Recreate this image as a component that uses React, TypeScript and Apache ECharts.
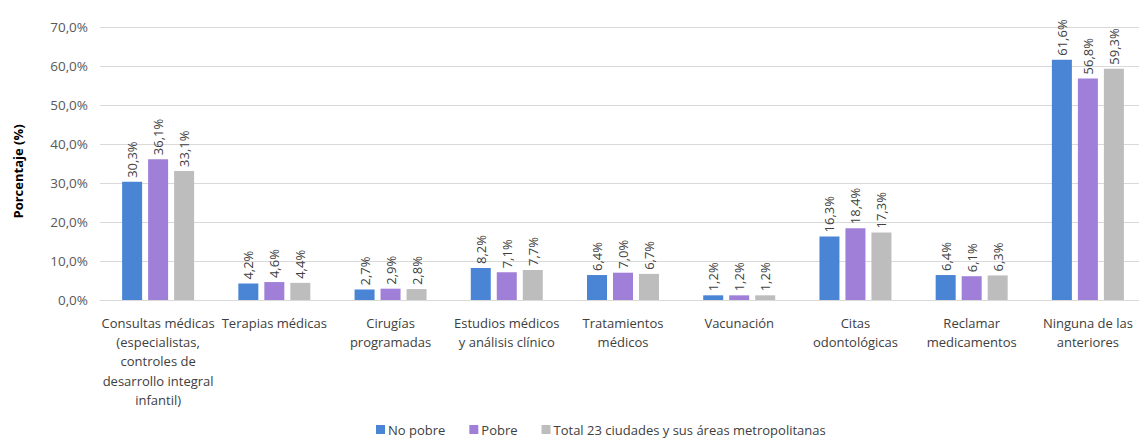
import React, { useEffect, useRef } from "react";
import * as echarts from "echarts";

const categories = [
  "Consultas médicas\n(especialistas,\ncontroles de\ndesarrollo integral\ninfantil)",
  "Terapias médicas",
  "Cirugías\nprogramadas",
  "Estudios médicos\ny análisis clínico",
  "Tratamientos\nmédicos",
  "Vacunación",
  "Citas\nodontológicas",
  "Reclamar\nmedicamentos",
  "Ninguna de las\nanteriores",
];
const noPobre = [30.3, 4.2, 2.7, 8.2, 6.4, 1.2, 16.3, 6.4, 61.6];
const pobre = [36.1, 4.6, 2.9, 7.1, 7.0, 1.2, 18.4, 6.1, 56.8];
const total = [33.1, 4.4, 2.8, 7.7, 6.7, 1.2, 17.3, 6.3, 59.3];
const seriesNames = ["No pobre", "Pobre", "Total 23 ciudades y sus áreas metropolitanas"];
const colors = ["#4A84D4", "#A07FD9", "#BDBDBD"];

const FONT = "'Open Sans', 'Noto Sans', sans-serif";

export default function App() {
  const ref = useRef<HTMLDivElement>(null);
  useEffect(() => {
    if (!ref.current) return;
    const chart = echarts.init(ref.current, undefined, { renderer: "svg" });
    const fmt = (v: number) => v.toFixed(1).replace(".", ",") + "%";
    const mk = (name: string, data: number[], color: string) => ({
      name,
      type: "bar",
      data,
      barWidth: 20,
      barGap: "30%",
      itemStyle: { color },
      label: {
        show: true,
        position: "top",
        rotate: 90,
        align: "left",
        verticalAlign: "middle",
        distance: 4,
        color: "#404040",
        fontSize: 13,
        fontFamily: FONT,
        formatter: (p: any) => fmt(p.value),
      },
    });
    chart.setOption({
      animation: false,
      textStyle: { fontFamily: FONT },
      grid: { left: 100, right: -7, top: 27, bottom: 139, outerBoundsMode: "none" },
      legend: {
        bottom: -2,
        left: 371,
        itemWidth: 9,
        itemHeight: 9,
        itemGap: 24,
        icon: "rect",
        textStyle: { color: "#404040", fontSize: 13, fontFamily: FONT, padding: [0, 0, 0, -2] },
        data: seriesNames,
      },
      xAxis: {
        type: "category",
        data: categories,
        axisLine: { lineStyle: { color: "#D9D9D9" } },
        axisTick: { show: false },
        axisLabel: {
          interval: 0,
          color: "#404040",
          fontSize: 13,
          fontFamily: FONT,
          lineHeight: 19.3,
          margin: 13,
          hideOverlap: false,
        },
      },
      yAxis: {
        type: "value",
        min: 0,
        max: 70,
        interval: 10,
        name: "Porcentaje (%)",
        nameLocation: "middle",
        nameGap: 76,
        nameRotate: 90,
        nameTextStyle: { fontWeight: "bold", color: "#000", fontSize: 13, fontFamily: FONT, padding: [0, 0, 0, -16] },
        axisLine: { show: false },
        axisTick: { show: false },
        splitLine: { lineStyle: { color: "#D9D9D9" } },
        axisLabel: {
          color: "#595959",
          fontSize: 13.5,
          fontFamily: FONT,
          margin: 12,
          formatter: (v: number) => v.toFixed(1).replace(".", ",") + "%",
        },
      },
      series: [
        mk(seriesNames[0], noPobre, colors[0]),
        mk(seriesNames[1], pobre, colors[1]),
        mk(seriesNames[2], total, colors[2]),
      ],
    });
    return () => chart.dispose();
  }, []);
  return <div ref={ref} style={{ width: 1139, height: 439, position: "absolute", left: 0, top: 0, background: "#fff", overflow: "hidden" }} />;
}
